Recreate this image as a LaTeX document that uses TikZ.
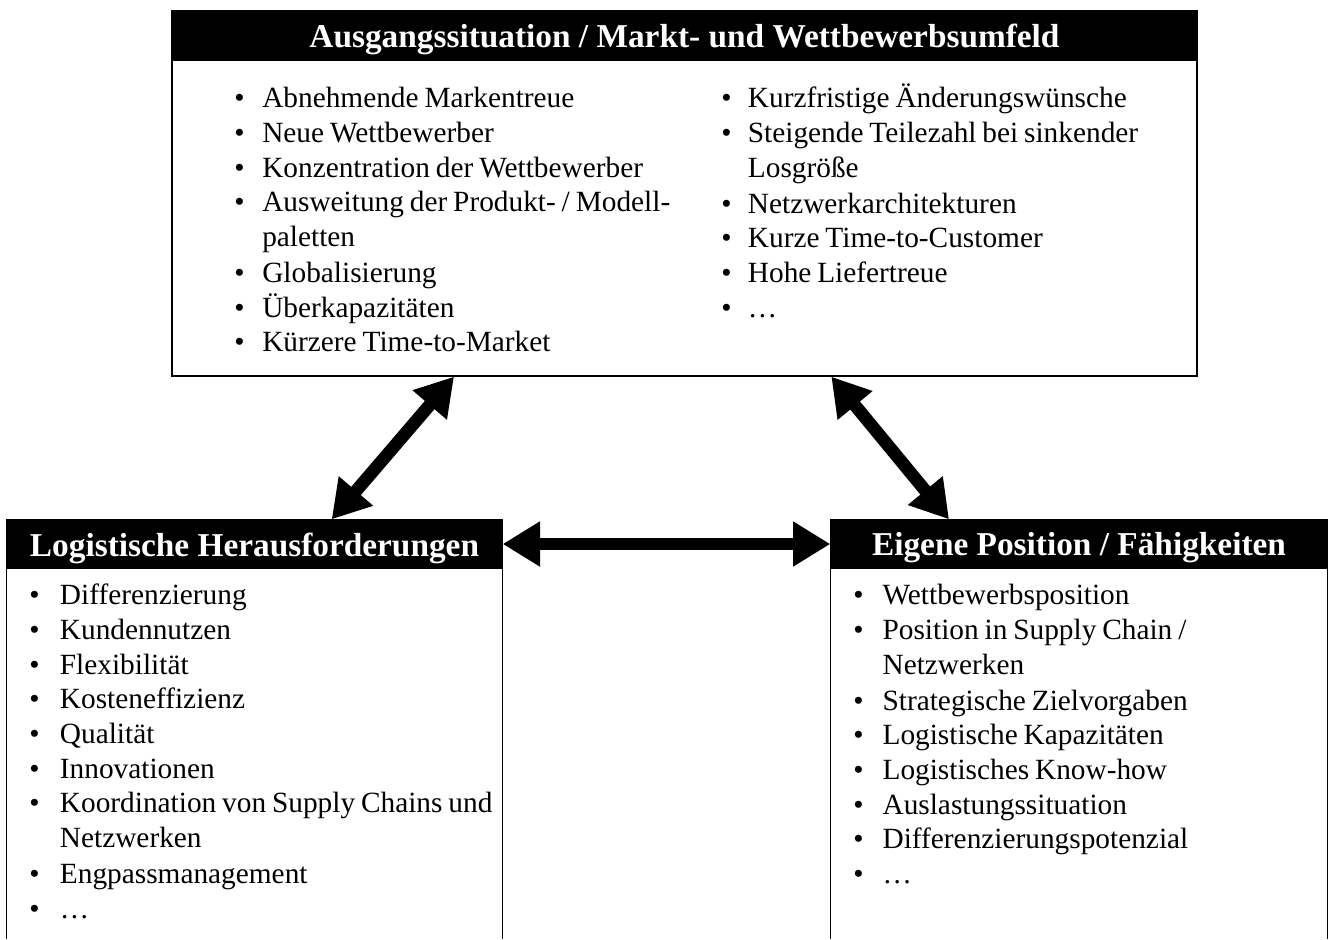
\documentclass[tikz,border=0pt]{standalone}
\usepackage{fontspec}
\setmainfont{Liberation Serif}
\usetikzlibrary{arrows.meta,fit}

\newlength{\bulw}
\newcommand{\itm}[1]{\par\noindent\makebox[\bulw][l]{\textbullet}\parbox[t]{340pt}{\raggedright\strut#1\strut}}

\tikzset{
	panel/.style={draw=black, line width=1pt, inner sep=0pt},
	headbar/.style={fill=black, draw=black, line width=1pt, inner sep=0pt},
	headtext/.style={text=white, inner sep=0pt, yshift=-3pt, font=\fontsize{25}{30}\selectfont\bfseries},
	itemlist/.style={anchor=north west, inner sep=0pt, text width=380pt, font=\fontsize{22}{26}\selectfont, execute at begin node={\setlength{\bulw}{#1}\spaceskip=0.2em plus 0.1em minus 0.05em\relax}},
	bigarrow/.style={{Triangle[width=32pt,length=28pt]}-{Triangle[width=32pt,length=28pt]}, line width=9.5pt}
}

\begin{document}
\begin{tikzpicture}[x=0.75pt, y=-0.75pt]
		\useasboundingbox (0,0) rectangle (1330,939);
		% boxes
		\node[panel, fit={(172,11) (1197,376)}] (markt) {};
		\node[inner sep=0pt, fit={(7,520) (502,939)}] (logbox) {};
		\node[inner sep=0pt, fit={(831,520) (1327,939)}] (eigbox) {};
		\draw[line width=1pt] (logbox.south west) -- (logbox.north west) -- (logbox.north east) -- (logbox.south east);
		\draw[line width=1pt] (eigbox.south west) -- (eigbox.north west) -- (eigbox.north east) -- (eigbox.south east);
		% headers
		\node[headbar, fit={(172,11) (1197,60)}] (markthead) {};
		\node[headbar, fit={(7,520) (502,568)}] (loghead) {};
		\node[headbar, fit={(831,520) (1327,568)}] (eighead) {};
		\node[headtext] (markttitle) at (markthead.center) {Ausgangssituation / Markt- und Wettbewerbsumfeld};
		\node[headtext] (logtitle) at (loghead.center) {Logistische Herausforderungen};
		\node[headtext] (eigtitle) at (eighead.center) {Eigene Position / Fähigkeiten};
		% lists
		\node[itemlist=21pt] (marktleft) at (234,73) {\itm{Abnehmende Markentreue}
			\itm{Neue Wettbewerber}
			\itm{Konzentration der Wettbewerber}
			\itm{Ausweitung der Produkt- / Modell-\\paletten}
			\itm{Globalisierung}
			\itm{Überkapazitäten}
			\itm{Kürzere Time-to-Market}};
		\node[itemlist=20pt] (marktright) at (721,73) {\itm{Kurzfristige Änderungswünsche}
			\itm{Steigende Teilezahl bei sinkender\\Losgröße}
			\itm{Netzwerkarchitekturen}
			\itm{Kurze Time-to-Customer}
			\itm{Hohe Liefertreue}
			\itm{\ldots}};
		\node[itemlist=23pt] (loglist) at (29,570) {\itm{Differenzierung}
			\itm{Kundennutzen}
			\itm{Flexibilität}
			\itm{Kosteneffizienz}
			\itm{Qualität}
			\itm{Innovationen}
			\itm{Koordination von Supply Chains und\\Netzwerken}
			\itm{Engpassmanagement}
			\itm{\ldots}};
		\node[itemlist=22pt] (eiglist) at (853,570) {\itm{Wettbewerbsposition}
			\itm{Position in Supply Chain /\\Netzwerken}
			\itm{Strategische Zielvorgaben}
			\itm{Logistische Kapazitäten}
			\itm{Logistisches Know-how}
			\itm{Auslastungssituation}
			\itm{Differenzierungspotenzial}
			\itm{\ldots}};
		% arrows
		\draw[bigarrow] ([xshift=212pt]markt.south west) -- ([xshift=244pt]loghead.north west);
		\draw[bigarrow] ([xshift=495pt]markt.south west) -- ([xshift=89pt]eighead.north west);
		\draw[bigarrow] (loghead.east) -- (eighead.west);
	\end{tikzpicture}
\end{document}
